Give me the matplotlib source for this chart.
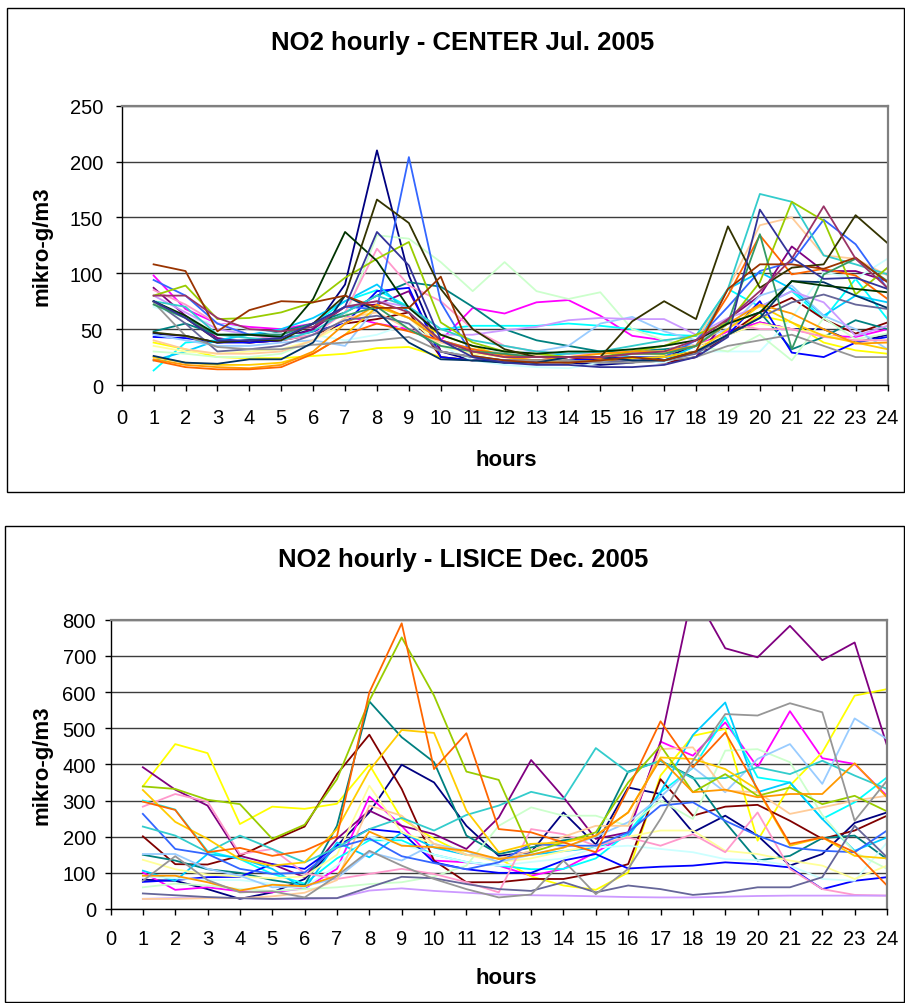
import matplotlib
matplotlib.use("Agg")
import matplotlib.pyplot as plt
from matplotlib.patches import Rectangle

plt.rcParams['font.family'] = ['Liberation Sans', 'DejaVu Sans']

hours = list(range(1, 25))

# Excel default line colours, one per day
day_colors = ['#000080', '#FF00FF', '#FFFF00', '#00FFFF', '#800080', '#800000',
              '#008080', '#0000FF', '#00CCFF', '#CCFFFF', '#CCFFCC', '#FFFF99',
              '#99CCFF', '#FF99CC', '#CC99FF', '#FFCC99', '#3366FF', '#33CCCC',
              '#99CC00', '#FFCC00', '#FF9900', '#FF6600', '#666699', '#969696',
              '#003366', '#339966', '#003300', '#333300', '#993300', '#993366',
              '#333399']

# --- CENTER, Jul. 2005 (mikro-g/m3, hours 1..24) ---
c01 = [46, 44, 38, 40, 42, 50, 90, 210, 98, 30, 22, 20, 22, 20, 18, 20, 25, 35, 45, 56, 50, 50, 38, 45]
c02 = [98, 68, 55, 52, 50, 55, 62, 55, 50, 40, 69, 64, 74, 76, 62, 44, 40, 35, 48, 56, 50, 44, 43, 50]
c03 = [38, 32, 25, 24, 24, 26, 28, 33, 34, 25, 22, 22, 22, 22, 22, 24, 26, 30, 45, 62, 56, 38, 31, 28]
c04 = [13, 38, 40, 38, 42, 55, 75, 85, 70, 50, 53, 53, 53, 55, 53, 50, 45, 44, 86, 70, 84, 59, 95, 59]
c05 = [87, 62, 42, 38, 40, 50, 70, 72, 84, 30, 25, 22, 22, 25, 22, 25, 20, 25, 59, 80, 124, 102, 102, 93]
c06 = [75, 60, 40, 38, 40, 45, 55, 59, 65, 25, 22, 22, 20, 25, 22, 22, 20, 25, 45, 65, 78, 59, 46, 56]
c07 = [48, 55, 45, 45, 48, 55, 65, 80, 92, 88, 70, 50, 40, 35, 30, 30, 32, 35, 55, 65, 32, 43, 58, 50]
c08 = [43, 42, 38, 38, 40, 48, 55, 84, 87, 25, 22, 22, 20, 22, 24, 25, 25, 30, 45, 75, 29, 25, 38, 43]
c09 = [22, 30, 40, 45, 50, 60, 75, 90, 65, 40, 32, 28, 25, 28, 30, 25, 22, 35, 86, 101, 86, 62, 80, 74]
c10 = [70, 60, 55, 50, 45, 45, 40, 45, 55, 35, 22, 18, 16, 15, 20, 22, 20, 30, 30, 30, 60, 101, 95, 113]
c11 = [30, 28, 25, 25, 28, 40, 60, 134, 131, 110, 84, 110, 84, 77, 83, 50, 40, 35, 30, 45, 22, 60, 41, 46]
c12 = [35, 30, 28, 30, 32, 40, 55, 70, 60, 35, 28, 25, 25, 25, 28, 28, 30, 35, 45, 55, 50, 45, 40, 40]
c13 = [45, 40, 35, 35, 38, 40, 35, 70, 60, 40, 30, 28, 30, 35, 55, 61, 48, 40, 50, 80, 89, 62, 50, 32]
c14 = [85, 72, 55, 45, 40, 45, 65, 122, 89, 75, 50, 35, 30, 28, 28, 30, 35, 40, 55, 50, 50, 43, 40, 40]
c15 = [80, 65, 50, 45, 42, 55, 70, 75, 70, 45, 45, 49, 52, 58, 60, 59, 59, 45, 60, 70, 84, 74, 44, 53]
c16 = [40, 32, 28, 28, 30, 40, 60, 65, 50, 38, 32, 28, 26, 25, 28, 30, 30, 40, 86, 143, 150, 116, 113, 98]
c17 = [94, 80, 55, 45, 45, 55, 70, 68, 204, 74, 26, 22, 20, 20, 22, 25, 25, 40, 70, 102, 110, 148, 126, 86]
c18 = [75, 70, 45, 42, 40, 48, 65, 80, 70, 50, 40, 35, 30, 28, 30, 35, 40, 44, 86, 171, 164, 116, 108, 99]
c19 = [80, 89, 59, 60, 65, 74, 96, 113, 128, 56, 38, 30, 28, 25, 25, 30, 35, 45, 56, 92, 164, 147, 81, 105]
c20 = [25, 20, 18, 18, 20, 28, 45, 70, 60, 45, 35, 25, 22, 20, 22, 24, 25, 30, 50, 71, 56, 44, 38, 32]
c21 = [23, 18, 16, 15, 18, 30, 55, 72, 60, 40, 30, 25, 22, 25, 28, 30, 30, 35, 55, 72, 64, 50, 37, 38]
c22 = [22, 16, 14, 14, 16, 28, 45, 55, 48, 40, 32, 27, 25, 25, 24, 28, 28, 35, 80, 134, 99, 104, 98, 77]
c23 = [75, 55, 30, 32, 35, 45, 58, 62, 55, 30, 25, 22, 22, 22, 20, 22, 22, 28, 45, 60, 74, 81, 72, 68]
c24 = [74, 44, 34, 32, 32, 36, 38, 40, 43, 30, 25, 22, 22, 22, 20, 20, 22, 25, 35, 40, 45, 35, 25, 25]
c25 = [26, 20, 19, 23, 23, 38, 80, 66, 38, 23, 22, 20, 20, 25, 25, 22, 22, 30, 45, 60, 93, 92, 80, 69]
c26 = [72, 60, 45, 45, 45, 55, 62, 70, 50, 35, 30, 28, 25, 25, 25, 28, 28, 35, 56, 135, 32, 99, 113, 93]
c27 = [75, 62, 45, 45, 43, 77, 137, 111, 69, 45, 35, 30, 28, 30, 30, 32, 35, 40, 55, 65, 93, 89, 86, 83]
c28 = [47, 44, 38, 40, 40, 55, 80, 166, 145, 86, 50, 32, 25, 25, 25, 57, 75, 59, 142, 87, 105, 108, 152, 127]
c29 = [108, 102, 48, 67, 75, 74, 80, 69, 69, 97, 26, 22, 20, 20, 22, 25, 22, 30, 86, 108, 108, 104, 114, 92]
c30 = [80, 80, 60, 50, 48, 52, 70, 75, 65, 40, 30, 25, 25, 25, 25, 28, 30, 40, 59, 84, 113, 160, 113, 87]
c31 = [75, 60, 40, 40, 42, 55, 70, 137, 107, 40, 25, 20, 18, 18, 16, 16, 18, 25, 43, 157, 114, 95, 96, 86]

center_days = [c01, c02, c03, c04, c05, c06, c07, c08, c09, c10, c11, c12, c13, c14, c15, c16,
               c17, c18, c19, c20, c21, c22, c23, c24, c25, c26, c27, c28, c29, c30, c31]

# --- LISICE, Dec. 2005 ---
l01 = [81, 78, 55, 28, 46, 83, 175, 267, 399, 350, 230, 147, 157, 267, 178, 336, 318, 212, 258, 203, 120, 152, 238, 267]
l02 = [101, 53, 60, 49, 46, 57, 111, 311, 230, 134, 129, 120, 92, 111, 157, 207, 463, 424, 516, 392, 547, 417, 401, 313]
l03 = [339, 456, 431, 235, 283, 277, 291, 399, 249, 194, 150, 140, 90, 65, 53, 101, 369, 479, 498, 189, 341, 433, 590, 608]
l04 = [300, 275, 160, 138, 97, 70, 140, 190, 190, 150, 130, 120, 110, 111, 140, 210, 323, 390, 530, 364, 350, 249, 295, 364]
l05 = [392, 330, 286, 147, 124, 88, 194, 272, 230, 207, 166, 253, 412, 309, 194, 212, 460, 880, 721, 696, 783, 688, 737, 452]
l06 = [201, 124, 123, 147, 189, 228, 373, 482, 332, 134, 74, 74, 83, 83, 100, 124, 359, 258, 283, 288, 244, 194, 217, 258]
l07 = [150, 134, 110, 100, 80, 66, 230, 574, 475, 406, 203, 152, 170, 190, 200, 380, 410, 364, 240, 134, 147, 196, 203, 138]
l08 = [75, 80, 88, 89, 124, 111, 175, 221, 212, 129, 110, 100, 100, 134, 152, 112, 117, 120, 129, 124, 115, 55, 78, 88]
l09 = [106, 78, 152, 141, 111, 55, 184, 143, 212, 170, 150, 140, 150, 160, 170, 200, 323, 481, 571, 323, 350, 249, 161, 198]
l10 = [90, 85, 80, 80, 70, 60, 120, 200, 180, 150, 130, 120, 130, 140, 170, 175, 166, 157, 138, 135, 120, 83, 78, 184]
l11 = [60, 70, 65, 55, 50, 55, 60, 69, 74, 90, 120, 230, 281, 258, 258, 230, 300, 249, 438, 442, 406, 260, 157, 111]
l12 = [136, 110, 95, 90, 85, 90, 150, 341, 212, 180, 150, 130, 140, 160, 175, 200, 217, 217, 161, 152, 134, 120, 83, 120]
l13 = [152, 152, 111, 92, 60, 63, 85, 157, 134, 180, 160, 130, 150, 170, 200, 240, 310, 392, 323, 415, 456, 346, 527, 470]
l14 = [283, 318, 297, 152, 166, 99, 83, 97, 111, 97, 74, 46, 221, 207, 175, 198, 175, 207, 157, 267, 111, 55, 39, 37]
l15 = [28, 30, 30, 30, 28, 28, 30, 51, 57, 50, 45, 40, 38, 37, 35, 33, 32, 32, 34, 36, 37, 37, 37, 37]
l16 = [28, 28, 30, 30, 35, 45, 80, 286, 258, 180, 150, 140, 160, 200, 230, 230, 442, 447, 327, 323, 263, 281, 300, 313]
l17 = [263, 166, 152, 111, 97, 101, 170, 195, 146, 127, 110, 129, 180, 175, 175, 212, 286, 295, 244, 203, 170, 161, 157, 217]
l18 = [228, 203, 157, 203, 166, 129, 170, 221, 252, 217, 260, 286, 324, 304, 445, 378, 410, 361, 362, 392, 373, 410, 369, 332]
l19 = [339, 332, 302, 290, 194, 233, 359, 576, 751, 590, 380, 357, 157, 184, 212, 350, 452, 323, 373, 313, 336, 290, 313, 270]
l20 = [329, 241, 194, 138, 120, 129, 221, 383, 495, 487, 272, 157, 180, 184, 203, 267, 419, 415, 387, 330, 175, 198, 147, 140]
l21 = [92, 92, 74, 51, 67, 63, 92, 214, 175, 171, 161, 138, 150, 170, 203, 267, 415, 323, 330, 309, 318, 318, 403, 309]
l22 = [297, 274, 157, 169, 147, 161, 201, 599, 790, 387, 486, 221, 212, 184, 157, 332, 519, 392, 488, 332, 180, 198, 157, 65]
l23 = [43, 38, 33, 30, 28, 30, 30, 60, 89, 85, 69, 55, 50, 74, 46, 65, 55, 39, 46, 60, 60, 88, 230, 143]
l24 = [78, 146, 80, 46, 49, 32, 92, 161, 120, 83, 55, 32, 40, 134, 41, 111, 249, 410, 539, 535, 569, 544, 244, 355]

lisice_days = [l01, l02, l03, l04, l05, l06, l07, l08, l09, l10, l11, l12,
               l13, l14, l15, l16, l17, l18, l19, l20, l21, l22, l23, l24]

W, H = 905, 1004
fig = plt.figure(figsize=(W / 100, H / 100), dpi=100)


def fx(px):
    return px / W


def fy(py):
    return 1 - py / H


def panel(box, rect, days, ymax, ystep, title, title_y, xlab_y, ypad, xpad):
    # outer chart frame
    x0, y0, x1, y1 = box
    fig.add_artist(Rectangle((fx(x0), fy(y1)), fx(x1 - x0), (y1 - y0) / H,
                             transform=fig.transFigure, fill=False,
                             ec='black', lw=1.0))
    l, t, r, b = rect
    ax = fig.add_axes([fx(l), fy(b), fx(r - l), (b - t) / H])
    for vals, col in zip(days, day_colors):
        ax.plot(hours, vals, color=col, lw=1.3)
    ax.set_xlim(0, 24)
    ax.set_ylim(0, ymax)
    ax.set_xticks(range(0, 25))
    ax.set_yticks(range(0, ymax + 1, ystep))
    ax.yaxis.grid(True, color='#3c3c3c', lw=1.0)
    ax.set_axisbelow(True)
    ax.tick_params(axis='x', direction='out', length=4.5, width=1, pad=xpad, labelsize=14.5)
    ax.tick_params(axis='y', direction='out', length=4.5, width=1, pad=ypad, labelsize=14.5)
    for s in ['left', 'bottom']:
        ax.spines[s].set_color('black')
        ax.spines[s].set_linewidth(1.0)
    for s in ['top', 'right']:
        ax.spines[s].set_color('#808080')
        ax.spines[s].set_linewidth(1.6)
    fig.text(fx(463), fy(title_y), title, ha='center', va='baseline',
             fontsize=18.5, fontweight='bold')
    fig.text(fx(506), fy(xlab_y), 'hours', ha='center', va='baseline',
             fontsize=16, fontweight='bold')
    fig.text(fx(42), fy((t + b) / 2), 'mikro-g/m3', ha='center', va='center',
             rotation=90, fontsize=16, fontweight='bold')
    return ax


panel((7, 9, 904, 492.5), (121.7, 106.7, 887.5, 386), center_days, 250, 50,
      'NO2 hourly - CENTER Jul. 2005', 50, 466, 9, 12)
panel((5, 526.5, 904, 1003), (110.5, 620.7, 887, 910), lisice_days, 800, 100,
      'NO2 hourly - LISICE Dec. 2005', 566.5, 984, 6, 10)

fig.savefig('out.png', dpi=100)
